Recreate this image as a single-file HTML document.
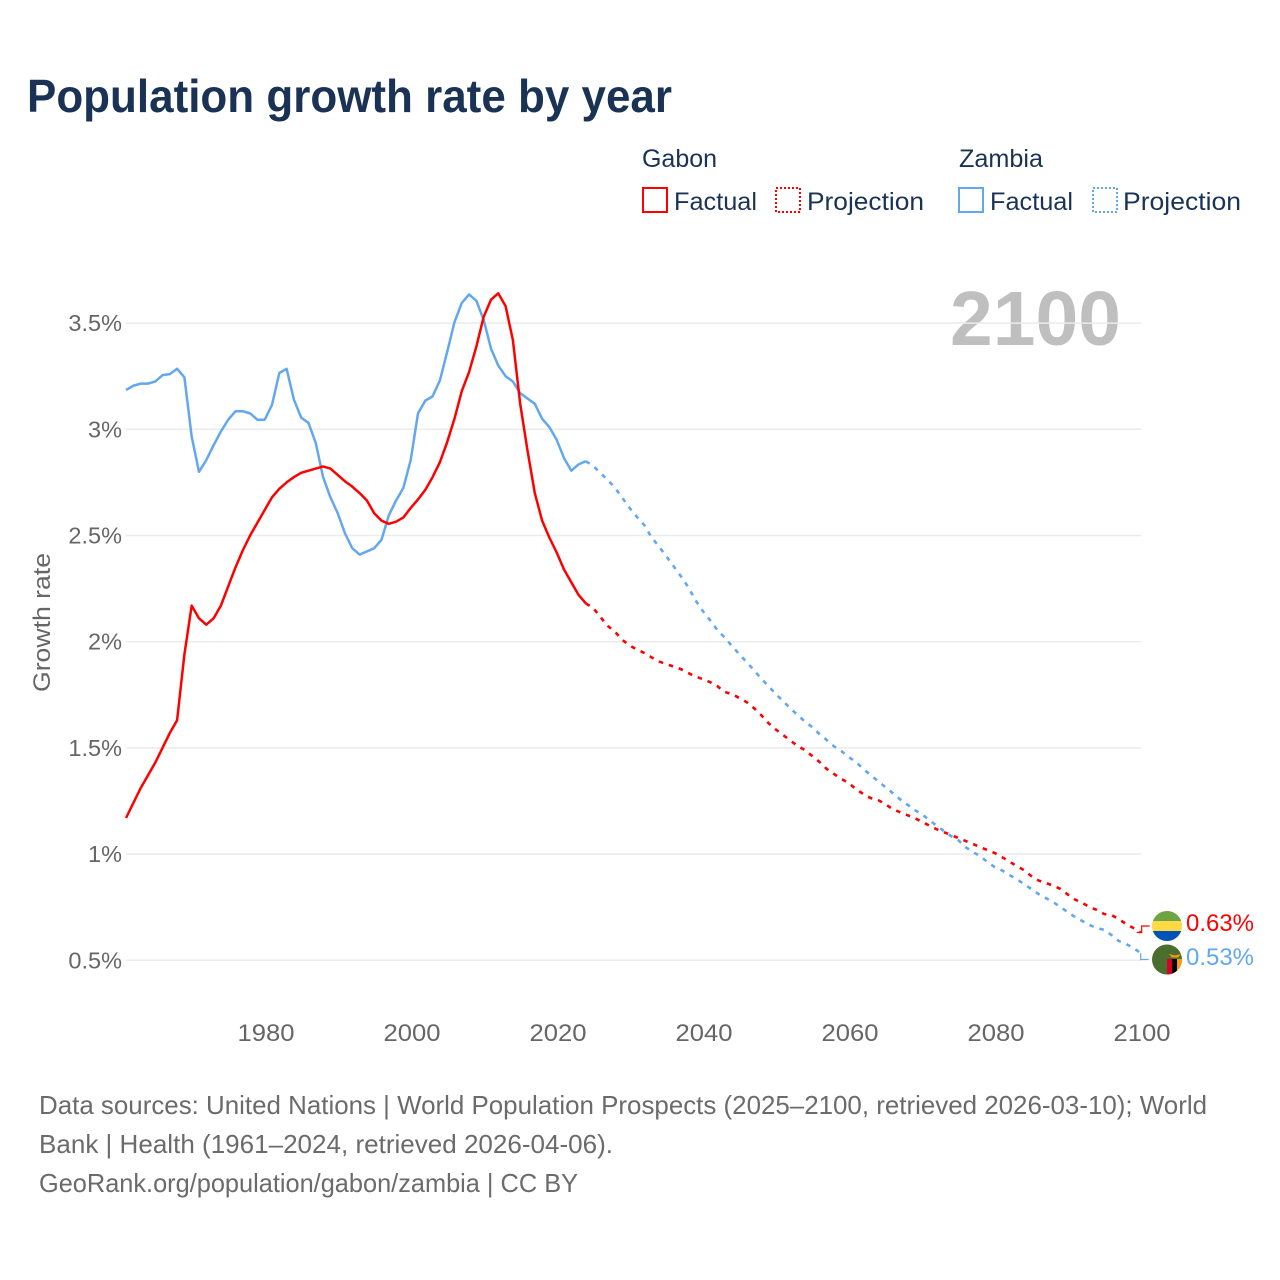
<!DOCTYPE html>
<html lang="en">
<head>
<meta charset="utf-8">
<title>Population growth rate by year</title>
<style>
html,body{margin:0;padding:0;background:#fff;}
svg{display:block;}
text{font-family:"Liberation Sans",sans-serif;}
</style>
</head>
<body>
<svg id="chart" xmlns="http://www.w3.org/2000/svg" width="1280" height="1280" viewBox="0 0 1280 1280">
  <rect x="0" y="0" width="1280" height="1280" fill="#ffffff"/>
  <text x="27" y="112" font-size="46" font-weight="700" fill="#1a3355" textLength="645" lengthAdjust="spacingAndGlyphs">Population growth rate by year</text>

  <g font-size="25" fill="#1a3355">
    <text x="642" y="167" textLength="75" lengthAdjust="spacingAndGlyphs">Gabon</text>
    <text x="959" y="167" textLength="84" lengthAdjust="spacingAndGlyphs">Zambia</text>
    <rect x="643" y="188" width="24" height="24" fill="none" stroke="#ff0000" stroke-width="2"/>
    <text x="674" y="210" textLength="83" lengthAdjust="spacingAndGlyphs">Factual</text>
    <rect x="776" y="188" width="24" height="24" fill="none" stroke="#ff0000" stroke-width="2" stroke-dasharray="2 2"/>
    <text x="807" y="210" textLength="117" lengthAdjust="spacingAndGlyphs">Projection</text>
    <rect x="959" y="188" width="24" height="24" fill="none" stroke="#63a8ee" stroke-width="2"/>
    <text x="990" y="210" textLength="83" lengthAdjust="spacingAndGlyphs">Factual</text>
    <rect x="1093" y="188" width="24" height="24" fill="none" stroke="#63a8ee" stroke-width="2" stroke-dasharray="2 2"/>
    <text x="1123" y="210" textLength="118" lengthAdjust="spacingAndGlyphs">Projection</text>
  </g>

  <text x="950" y="345" font-size="77" font-weight="700" fill="#000000" fill-opacity="0.25" textLength="171" lengthAdjust="spacingAndGlyphs">2100</text>

  <g id="grid"></g>
  <g id="ytick-labels" font-size="23.5" fill="#666666" text-anchor="end"></g>
  <g id="xtick-labels" font-size="24" fill="#666666" text-anchor="middle"></g>
  <text transform="translate(50,692) rotate(-90)" font-size="24" fill="#666666" textLength="139" lengthAdjust="spacingAndGlyphs">Growth rate</text>

  <g id="series"></g>

  <defs>
    <clipPath id="clip-gabon"><circle cx="1167" cy="926" r="15"/></clipPath>
    <clipPath id="clip-zambia"><circle cx="1167" cy="959.5" r="15"/></clipPath>
  </defs>
  <g clip-path="url(#clip-gabon)">
    <rect x="1152" y="911" width="30" height="10.5" fill="#6da544"/>
    <rect x="1152" y="921" width="30" height="10.5" fill="#ffda44"/>
    <rect x="1152" y="931" width="30" height="10" fill="#0052b4"/>
  </g>
  <g clip-path="url(#clip-zambia)">
    <rect x="1152" y="944.5" width="30" height="30" fill="#496e2d"/>
    <rect x="1167" y="959" width="5" height="16" fill="#d80027"/>
    <rect x="1172" y="959" width="5" height="16" fill="#000000"/>
    <rect x="1177" y="959" width="5" height="16" fill="#ff9811"/>
    <path d="M1169 954l6 1.500 6-1.500-3 3.500h-6z" fill="#ff9811"/>
  </g>
  <text x="1186" y="931" font-size="24" fill="#ff0000" textLength="68" lengthAdjust="spacingAndGlyphs">0.63%</text>
  <text x="1186" y="965" font-size="24" fill="#63a8ee" textLength="68" lengthAdjust="spacingAndGlyphs">0.53%</text>

  <g font-size="26" fill="#6b6b6b">
    <text x="39" y="1114" textLength="1168" lengthAdjust="spacingAndGlyphs">Data sources: United Nations | World Population Prospects (2025–2100, retrieved 2026-03-10); World</text>
    <text x="39" y="1153" textLength="574" lengthAdjust="spacingAndGlyphs">Bank | Health (1961–2024, retrieved 2026-04-06).</text>
    <text x="39" y="1192" textLength="539" lengthAdjust="spacingAndGlyphs">GeoRank.org/population/gabon/zambia | CC BY</text>
  </g>
</svg>
<script>
const yTicks = [0.5, 1, 1.5, 2, 2.5, 3, 3.5];
const yTickLabels = ["0.5%", "1%", "1.5%", "2%", "2.5%", "3%", "3.5%"];
const xTicks = [1980, 2000, 2020, 2040, 2060, 2080, 2100];
const xTickLabels = ["1980", "2000", "2020", "2040", "2060", "2080", "2100"];
const factualStartYear = 1961;
const projectionStartYear = 2025;
const gabonFactual = [1.17,1.24,1.31,1.37,1.43,1.50,1.57,1.63,1.94,2.17,2.11,2.08,2.11,2.17,2.26,2.35,2.43,2.50,2.56,2.62,2.68,2.72,2.75,2.775,2.795,2.805,2.815,2.825,2.815,2.785,2.755,2.73,2.70,2.665,2.605,2.57,2.555,2.565,2.585,2.63,2.67,2.715,2.775,2.845,2.94,3.05,3.18,3.27,3.39,3.53,3.61,3.64,3.58,3.42,3.12,2.90,2.70,2.57,2.49,2.42,2.34,2.28,2.22,2.18];
const zambiaFactual = [3.185,3.205,3.215,3.215,3.225,3.255,3.26,3.285,3.245,2.965,2.80,2.855,2.925,2.99,3.045,3.085,3.085,3.075,3.045,3.045,3.115,3.265,3.285,3.14,3.055,3.03,2.935,2.775,2.68,2.605,2.51,2.44,2.41,2.425,2.44,2.48,2.595,2.665,2.725,2.855,3.075,3.135,3.155,3.23,3.365,3.505,3.595,3.635,3.605,3.515,3.38,3.30,3.25,3.225,3.17,3.145,3.12,3.05,3.01,2.95,2.865,2.805,2.835,2.85];
const gabonProjection = [2.159,2.116,2.074,2.046,2.008,1.982,1.963,1.947,1.926,1.907,1.895,1.883,1.871,1.853,1.836,1.824,1.810,1.791,1.763,1.754,1.735,1.716,1.688,1.655,1.617,1.587,1.561,1.535,1.509,1.490,1.462,1.434,1.401,1.377,1.354,1.335,1.306,1.283,1.264,1.255,1.236,1.212,1.198,1.184,1.170,1.153,1.135,1.118,1.104,1.090,1.076,1.062,1.048,1.033,1.019,1.005,0.986,0.965,0.944,0.925,0.897,0.876,0.864,0.852,0.836,0.810,0.786,0.770,0.751,0.737,0.718,0.713,0.694,0.671,0.652,0.631];
const zambiaProjection = [2.827,2.794,2.761,2.724,2.677,2.629,2.587,2.549,2.491,2.448,2.403,2.356,2.309,2.258,2.196,2.145,2.102,2.055,2.02,1.98,1.942,1.904,1.867,1.827,1.791,1.754,1.721,1.686,1.655,1.624,1.598,1.565,1.537,1.507,1.485,1.457,1.434,1.401,1.372,1.344,1.316,1.288,1.259,1.234,1.208,1.189,1.161,1.135,1.109,1.085,1.066,1.033,1.010,0.991,0.963,0.939,0.923,0.902,0.883,0.859,0.836,0.812,0.793,0.774,0.751,0.727,0.704,0.685,0.666,0.652,0.643,0.619,0.591,0.577,0.558,0.534];

const SVG_NS = "http://www.w3.org/2000/svg";
const RED = "#ff0000";
const BLUE = "#63a8ee";
function xScale(year) { return 126 + 7.3 * (year - 1961); }
function yScale(value) { return 960.3 - 212.4 * (value - 0.5); }
function make(tag, attrs, parent) {
  const el = document.createElementNS(SVG_NS, tag);
  Object.keys(attrs).forEach(function (k) { el.setAttribute(k, attrs[k]); });
  parent.appendChild(el);
  return el;
}
function pointsFrom(values, startYear) {
  return values.map(function (v, i) {
    return xScale(startYear + i).toFixed(2) + "," + yScale(v).toFixed(2);
  });
}

const grid = document.getElementById("grid");
const yLabels = document.getElementById("ytick-labels");
yTicks.forEach(function (t, i) {
  const line = make("line", { x1: 126, x2: 1141.5, y1: yScale(t), y2: yScale(t), stroke: "#ebebeb", "stroke-width": 1.5 }, grid);
  
  
  const label = make("text", { x: 122, y: yScale(t) + 8 }, yLabels);
  
  
  label.textContent = yTickLabels[i];
});

const xLabels = document.getElementById("xtick-labels");
xTicks.forEach(function (t, i) {
  const label = make("text", { x: xScale(t) + 1.3, y: 1041, textLength: 57, lengthAdjust: "spacingAndGlyphs" }, xLabels);
  
  
  label.textContent = xTickLabels[i];
});

const series = document.getElementById("series");
function drawFactual(values, color) {
  const line = make("polyline", { points: pointsFrom(values, factualStartYear).join(" "), fill: "none", stroke: color, "stroke-width": 2.5, "stroke-linejoin": "round" }, series);
  return line;
}
function drawProjection(values, lastFactual, color) {
  const pts = [xScale(projectionStartYear - 1).toFixed(2) + "," + yScale(lastFactual).toFixed(2)].concat(pointsFrom(values, projectionStartYear));
  const line = make("polyline", { points: pts.join(" "), fill: "none", stroke: color, "stroke-width": 2.6, "stroke-dasharray": "4.500 6" }, series);
  return line;
}
const zambiaFactualLine = drawFactual(zambiaFactual, BLUE);


const gabonFactualLine = drawFactual(gabonFactual, RED);


const zambiaProjectionLine = drawProjection(zambiaProjection, zambiaFactual[zambiaFactual.length - 1], BLUE);


const gabonProjectionLine = drawProjection(gabonProjection, gabonFactual[gabonFactual.length - 1], RED);



const endX = xScale(2100);
const gabonEndY = yScale(gabonProjection[gabonProjection.length - 1]);
const zambiaEndY = yScale(zambiaProjection[zambiaProjection.length - 1]);
const gabonConnector = make("polyline", { points: (endX - 4) + "," + gabonEndY + " " + (endX + 1) + "," + gabonEndY + " " + (endX + 1) + ",926 " + (endX + 9) + ",926", fill: "none", stroke: RED, "stroke-width": 1.2 }, series);


const zambiaConnector = make("polyline", { points: endX + "," + zambiaEndY + " " + endX + ",959.5 " + (endX + 8) + ",959.5", fill: "none", stroke: BLUE, "stroke-width": 1.2 }, series);


</script>
</body>
</html>
